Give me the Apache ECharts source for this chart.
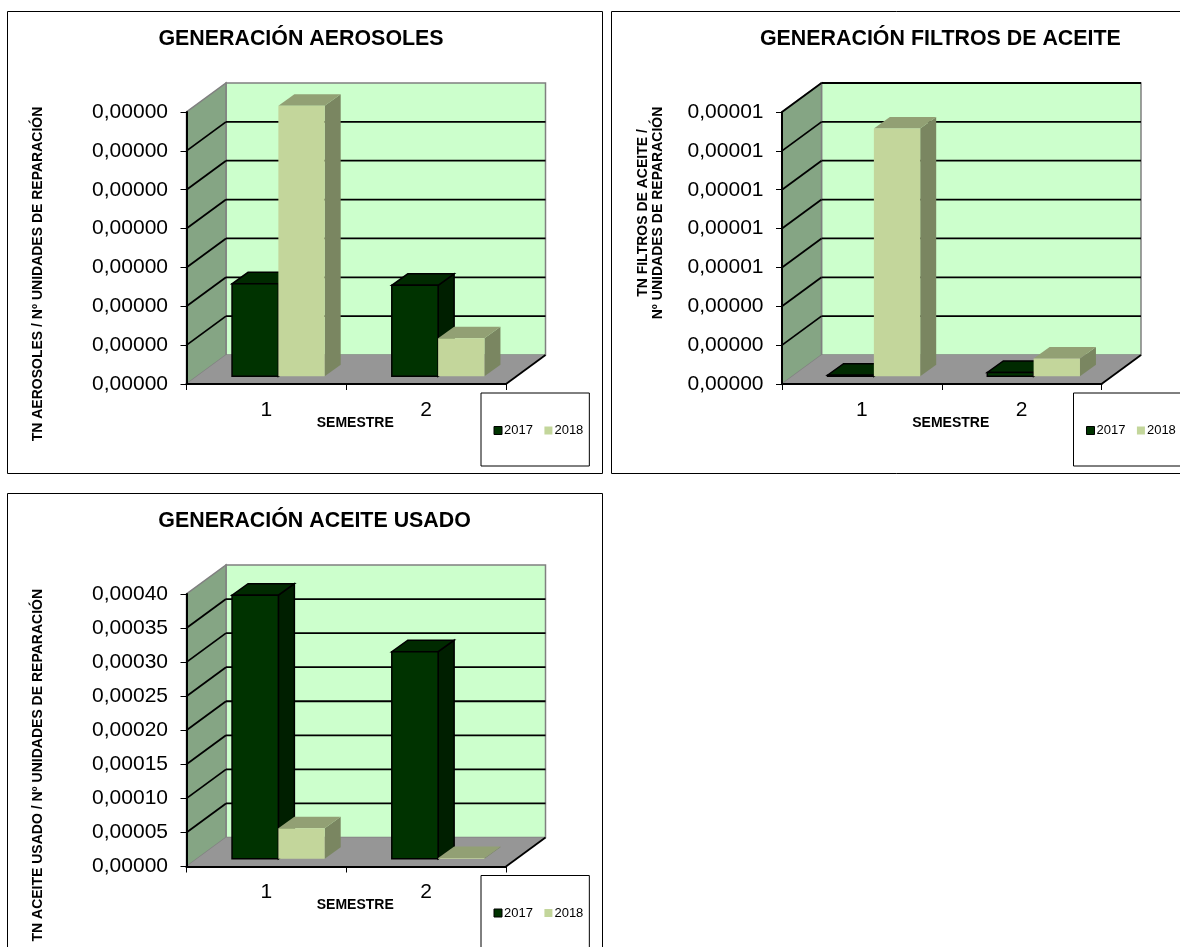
<!DOCTYPE html>
<html><head><meta charset="utf-8">
<style>html,body{margin:0;padding:0;background:#fff;overflow:hidden}#c{width:1180px;height:947px}</style>
<script src="https://cdn.jsdelivr.net/npm/echarts@6/dist/echarts.min.js"></script>
</head><body><div id="c"></div>
<script>
const categories = ['1', '2'];
const years = ['2017', '2018'];
const aerosoles2017 = [1.19e-6, 1.17e-6];
const aerosoles2018 = [3.48e-6, 0.49e-6];
const aerosolesTicks = [0, 5e-7, 1e-6, 1.5e-6, 2e-6, 2.5e-6, 3e-6, 3.5e-6];
const filtros2017 = [0.06e-6, 0.2e-6];
const filtros2018 = [12.75e-6, 0.91e-6];
const filtrosTicks = [0, 2e-6, 4e-6, 6e-6, 8e-6, 10e-6, 12e-6, 14e-6];
const aceite2017 = [0.000387, 0.000304];
const aceite2018 = [0.000045, 0.000001];
const aceiteTicks = [0, 0.00005, 0.0001, 0.00015, 0.0002, 0.00025, 0.0003, 0.00035, 0.0004];

const FONT = '"Liberation Sans", Arial, sans-serif';
const WALL = {dx: 39.5, dy: 29};
const BAR = {ratio: 0.29, baseDx: 12, baseDy: 7.7, dx: 16, dy: 11.5};
const COLORS = {
  back: '#CCFFCC', side: '#85A584', floor: '#969696', wallEdge: '#808080',
  s2017: {front: '#003300', top: '#002A00', side: '#001F00', stroke: '#000000'},
  s2018: {front: '#C3D69B', top: '#92A074', side: '#7A8661', stroke: null}
};

const charts = [
  {title: 'GENERACIÓN AEROSOLES', titleX: 301, titleY: 39, frame: [7.5, 11.5, 595, 462], topLine: false,
   grid: [186.5, 112, 319.5, 272], ticks: aerosolesTicks, s: [aerosoles2017, aerosoles2018],
   yName: 'TN AEROSOLES / Nº UNIDADES DE REPARACIÓN', yGap: 141, yPad: [0, 52, 0, 0], legend: [481, 393]},
  {title: 'GENERACIÓN FILTROS DE ACEITE', titleX: 940.4, titleY: 39, frame: [611.5, 11.5, 600, 462], topLine: true,
   grid: [782, 112, 319.5, 272], ticks: filtrosTicks, s: [filtros2017, filtros2018],
   yName: 'TN FILTROS DE ACEITE /\nNº UNIDADES DE REPARACIÓN', yGap: 116, yPad: [0, 0, 0, 70], legend: [1073.5, 393]},
  {title: 'GENERACIÓN ACEITE USADO', titleX: 314.6, titleY: 521, frame: [7.5, 493.5, 595, 480], topLine: false,
   grid: [186.5, 594, 319.5, 272.5], ticks: aceiteTicks, s: [aceite2017, aceite2018],
   yName: 'TN ACEITE USADO / Nº UNIDADES DE REPARACIÓN', yGap: 141, yPad: [0, 70, 0, 0], legend: [481, 875.5]}
];

function renderWalls(params) {
  const c = params.coordSys, x = c.x, y = c.y, w = c.width, h = c.height, d = WALL;
  const edge = {stroke: COLORS.wallEdge, lineWidth: 1.5};
  return {type: 'group', children: [
    {type: 'polygon', shape: {points: [[x + d.dx, y - d.dy], [x + w + d.dx, y - d.dy], [x + w + d.dx, y + h - d.dy], [x + d.dx, y + h - d.dy]]},
     style: Object.assign({fill: COLORS.back}, edge)},
    {type: 'polygon', shape: {points: [[x, y + h], [x, y], [x + d.dx, y - d.dy], [x + d.dx, y + h - d.dy]]},
     style: Object.assign({fill: COLORS.side}, edge)},
    {type: 'polygon', shape: {points: [[x, y + h], [x + w, y + h], [x + w + d.dx, y + h - d.dy], [x + d.dx, y + h - d.dy]]},
     style: {fill: COLORS.floor}},
    {type: 'line', shape: {x1: x + w, y1: y + h, x2: x + w + d.dx, y2: y + h - d.dy}, style: {stroke: '#000', lineWidth: 1.8}}
  ]};
}
function renderGridLine(params, api) {
  const p = api.coord([0, api.value(1)]), c = params.coordSys, d = WALL;
  if (api.value(1) === 0) return null;
  const y = p[1];
  return {type: 'group', children: [
    {type: 'line', shape: {x1: c.x, y1: y, x2: c.x + d.dx, y2: y - d.dy}, style: {stroke: '#000', lineWidth: 1.8}},
    {type: 'line', shape: {x1: c.x + d.dx, y1: y - d.dy, x2: c.x + c.width + d.dx, y2: y - d.dy}, style: {stroke: '#000', lineWidth: 1.8}}
  ]};
}
function barRenderer(offsetIndex, col) {
  return function (params, api) {
    const idx = api.value(0), top = api.coord([idx, api.value(1)]), base = api.coord([idx, 0]);
    const band = api.size([1, 0])[0], bw = band * BAR.ratio;
    const cx = top[0] + BAR.baseDx, x0 = cx + (offsetIndex - 1) * bw, x1 = x0 + bw;
    const yb = base[1] - BAR.baseDy, yt = top[1] - BAR.baseDy, dx = BAR.dx, dy = BAR.dy;
    const st = col.stroke ? {stroke: col.stroke, lineWidth: 1.5} : {};
    return {type: 'group', children: [
      {type: 'polygon', shape: {points: [[x1, yb], [x1, yt], [x1 + dx, yt - dy], [x1 + dx, yb - dy]]}, style: Object.assign({fill: col.side}, st)},
      {type: 'polygon', shape: {points: [[x0, yt], [x1, yt], [x1 + dx, yt - dy], [x0 + dx, yt - dy]]}, style: Object.assign({fill: col.top}, st)},
      {type: 'rect', shape: {x: x0, y: yt, width: bw, height: yb - yt}, style: Object.assign({fill: col.front}, st)}
    ]};
  };
}
const fmt = v => v.toFixed(5).replace('.', ',');

const option = {
  animation: false, backgroundColor: '#fff',
  title: [], grid: [], xAxis: [], yAxis: [], series: [], legend: [],
  graphic: {elements: []}
};
charts.forEach((ch, i) => {
  option.graphic.elements.push({type: 'rect', z: -1, silent: true,
    shape: {x: ch.frame[0], y: ch.frame[1], width: ch.frame[2], height: ch.frame[3]},
    style: {fill: '#fff', stroke: '#000', lineWidth: 1}});
  option.title.push({text: ch.title, left: ch.titleX, top: ch.titleY, textAlign: 'center', textVerticalAlign: 'middle', padding: 0,
    textStyle: {fontFamily: FONT, fontWeight: 'bold', fontSize: 21.4, color: '#000'}});
  option.grid.push({left: ch.grid[0], top: ch.grid[1], width: ch.grid[2], height: ch.grid[3], containLabel: false});
  option.xAxis.push({type: 'category', gridIndex: i, data: categories, z: 3,
    name: 'SEMESTRE', nameLocation: 'middle', nameGap: 32, nameMoveOverlap: false,
    nameTextStyle: {fontFamily: FONT, fontWeight: 'bold', fontSize: 14, color: '#000', padding: [0, 0, 0, 18]},
    axisLine: {lineStyle: {color: '#000', width: 2}}, axisTick: {show: true, length: 6, lineStyle: {color: '#000', width: 1}},
    axisLabel: {fontFamily: FONT, fontSize: 21, color: '#000', margin: 15.5}});
  option.yAxis.push({type: 'value', gridIndex: i, min: 0, max: ch.ticks[ch.ticks.length - 1], interval: ch.ticks[1], z: 3,
    name: ch.yName, nameLocation: 'middle', nameGap: ch.yGap, nameRotate: 90,
    nameTextStyle: {fontFamily: FONT, fontWeight: 'bold', fontSize: 14, lineHeight: 15.5, color: '#000', padding: ch.yPad},
    axisLine: {show: true, lineStyle: {color: '#000', width: 2}}, axisTick: {show: true, length: 6, lineStyle: {color: '#000', width: 1}},
    splitLine: {show: false},
    axisLabel: {fontFamily: FONT, fontSize: 21, color: '#000', margin: 18.5, padding: [2, 0, 0, 0], formatter: fmt}});
  option.series.push({type: 'custom', xAxisIndex: i, yAxisIndex: i, silent: true, clip: false, renderItem: renderWalls, data: [[0, 0]], encode: {x: 0, y: 1}});
  const lineTicks = ch.topLine ? ch.ticks : ch.ticks.slice(0, -1);
  option.series.push({type: 'custom', xAxisIndex: i, yAxisIndex: i, silent: true, clip: false, renderItem: renderGridLine,
    data: lineTicks.map(t => [0, t]), encode: {x: 0, y: 1}});
  [COLORS.s2017, COLORS.s2018].forEach((col, k) => {
    option.series.push({type: 'custom', name: years[k], xAxisIndex: i, yAxisIndex: i, silent: true, clip: false,
      itemStyle: {color: col.front}, renderItem: barRenderer(k, col),
      data: ch.s[k].map((v, j) => [j, v]), encode: {x: 0, y: 1}});
  });
  option.legend.push({left: ch.legend[0], top: ch.legend[1], width: 200, orient: 'horizontal', selectedMode: false,
    padding: [31, 6, 29, 12.5], itemGap: 11.5, itemWidth: 8, itemHeight: 8, backgroundColor: '#fff', borderColor: '#000', borderWidth: 1, borderRadius: 0,
    textStyle: {fontFamily: FONT, fontSize: 13, color: '#000', padding: [0, 0, 0, -3]},
    data: [{name: '2017', icon: 'rect', itemStyle: {color: COLORS.s2017.front, borderColor: '#000', borderWidth: 1}},
           {name: '2018', icon: 'rect', itemStyle: {color: COLORS.s2018.front, borderWidth: 0}}]});
});
const chart = echarts.init(document.getElementById('c'), null, {width: 1180, height: 947});
chart.setOption(option);
</script></body></html>
